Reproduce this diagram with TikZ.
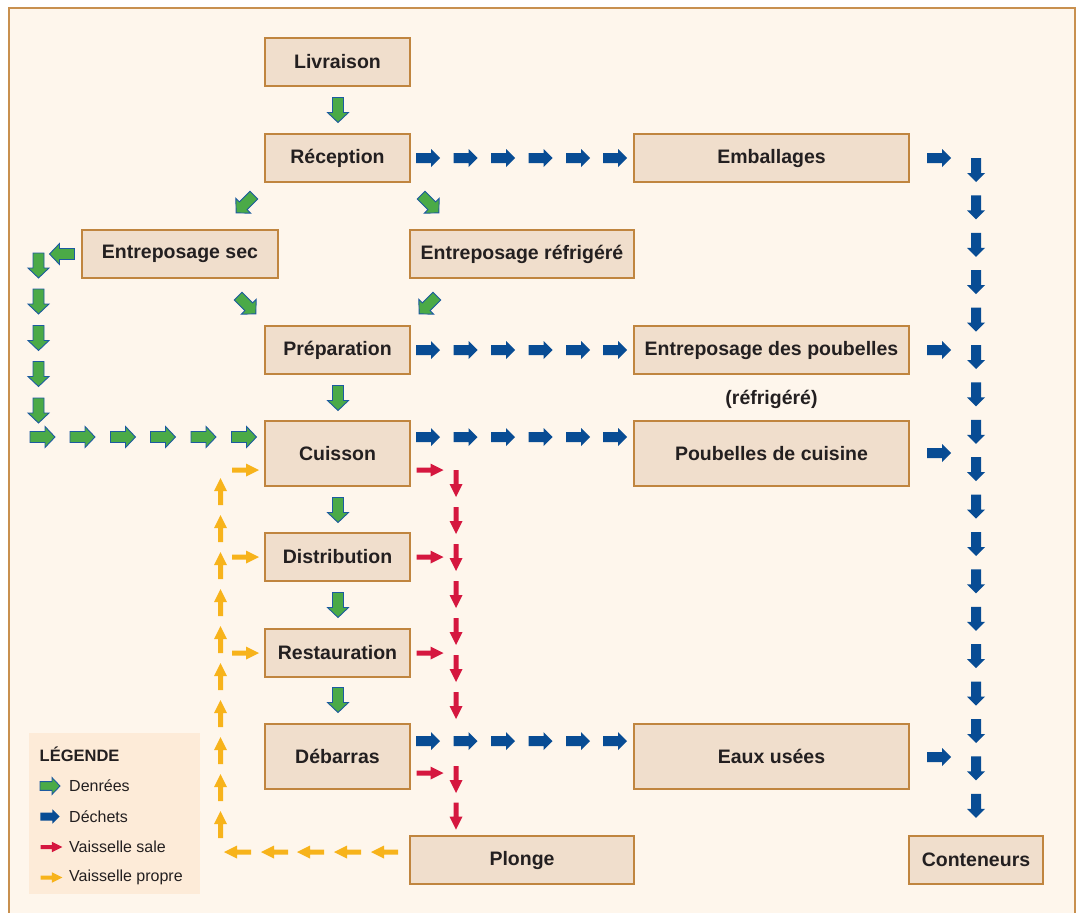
\documentclass[tikz,border=0pt]{standalone}
\usepackage{fontspec}
\setmainfont{Liberation Sans}
\definecolor{cream}{HTML}{FEF6EC}
\definecolor{frame}{HTML}{C8904F}
\definecolor{boxfill}{HTML}{F0DECC}
\definecolor{boxline}{HTML}{C0853F}
\definecolor{legfill}{HTML}{FDEBD8}
\definecolor{dgreen}{HTML}{4BAA47}
\definecolor{gline}{HTML}{1C5AA0}
\definecolor{dblue}{HTML}{084C94}
\definecolor{dred}{HTML}{D5173F}
\definecolor{dyellow}{HTML}{F7B31B}
\definecolor{txt}{HTML}{231F20}
\tikzset{
  box/.style={draw=boxline, fill=boxfill, line width=1.5pt, text=txt,
    font=\fontsize{19.5}{22}\selectfont\bfseries, inner sep=0pt},
  pics/grn/.style={code={\path[fill=dgreen, draw=gline, line width=0.9pt]
     (-12.5,-5.5) -- (2.5,-5.5) -- (2.5,-10.5) -- (12.5,0) -- (2.5,10.5) -- (2.5,5.5) -- (-12.5,5.5) -- cycle;}},
  pics/blu/.style={code={\path[fill=dblue]
     (-12,-5) -- (3,-5) -- (3,-9) -- (12,0) -- (3,9) -- (3,5) -- (-12,5) -- cycle;}},
  pics/thin/.style={code={\path[fill=#1]
     (-13.5,-2.5) -- (0.5,-2.5) -- (0.5,-6.5) -- (13.5,0) -- (0.5,6.5) -- (0.5,2.5) -- (-13.5,2.5) -- cycle;}},
  legtxt/.style={anchor=west, text=txt, font=\fontsize{16}{18}\selectfont, inner sep=0pt},
}
\begin{document}
\begin{tikzpicture}[x=1pt,y=-1pt]
\useasboundingbox (0,0) rectangle (1082,913);
\fill[white] (0,0) rectangle (1082,913);
\fill[cream] (8.5,7.5) rectangle (1074.5,913);
\draw[frame, line width=2pt] (8.5,925) -- (8.5,7.5) -- (1074.5,7.5) -- (1074.5,925);

% boxes
\node[box, minimum width=145pt, minimum height=48pt] (liv) at (337.5,62) {Livraison};
\node[box, minimum width=145pt, minimum height=48pt] (rec) at (337.5,158) {Réception};
\node[box, minimum width=275pt, minimum height=48pt] (emb) at (771.5,158) {Emballages};
\node[box, minimum width=196pt, minimum height=48pt] (esec) at (180,254) {Entreposage sec};
\node[box, minimum width=224pt, minimum height=48pt] (eref) at (522,254) {Entreposage réfrigéré};
\node[box, minimum width=145pt, minimum height=48pt] (prep) at (337.5,350) {Préparation};
\node[box, minimum width=275pt, minimum height=48pt] (epou) at (771.5,350) {Entreposage des poubelles};
\node[text=txt, font=\fontsize{19.5}{22}\selectfont\bfseries, inner sep=0pt] (refr) at (771.5,399) {(réfrigéré)};
\node[box, minimum width=145pt, minimum height=65pt] (cuis) at (337.5,453.5) {Cuisson};
\node[box, minimum width=275pt, minimum height=65pt] (pcui) at (771.5,453.5) {Poubelles de cuisine};
\node[box, minimum width=145pt, minimum height=48pt] (dist) at (337.5,557) {Distribution};
\node[box, minimum width=145pt, minimum height=48pt] (rest) at (337.5,653) {Restauration};
\node[box, minimum width=145pt, minimum height=65pt] (deb) at (337.5,756.5) {Débarras};
\node[box, minimum width=275pt, minimum height=65pt] (eaux) at (771.5,756.5) {Eaux usées};
\node[box, minimum width=224pt, minimum height=48pt] (plon) at (522,860) {Plonge};
\node[box, minimum width=134pt, minimum height=48pt] (cont) at (976,860) {Conteneurs};

% green arrows (Denrées)
\pic[rotate=-90] at (338,110) {grn};
\pic[rotate=225] at (245,204) {grn};
\pic[rotate=-45] at (430,204) {grn};
\pic[rotate=-45] at (247,305) {grn};
\pic[rotate=225] at (428,305) {grn};
\pic[rotate=180] at (62,254) {grn};
\foreach \y in {265.5,301.5,338,374,410.5} \pic[rotate=-90] at (38.5,\y) {grn};
\foreach \x in {42.5,82.5,123,163,203.5,244} \pic at (\x,437) {grn};
\foreach \y in {398,510,605,700} \pic[rotate=-90] at (338,\y) {grn};

% blue arrows (Déchets)
\foreach \y in {158,350,437,741}
  \foreach \x in {428,465.5,503,540.5,578,615} \pic at (\x,\y) {blu};
\foreach \y in {158,350,453,757} \pic at (939,\y) {blu};
\foreach \k in {0,...,17} \pic[rotate=-90] at (976,170+37.4*\k) {blu};

% red arrows (Vaisselle sale)
\foreach \y in {470,557,653,773} \pic at (430,\y) {thin=dred};
\foreach \y in {483.5,520.5,557.5,594.5,631.5,668.5,705.5,779.5,816} \pic[rotate=-90] at (456,\y) {thin=dred};

% yellow arrows (Vaisselle propre)
\foreach \y in {470,557,653} \pic at (245.5,\y) {thin=dyellow};
\foreach \k in {0,...,9} \pic[rotate=90] at (220.5,491.5+37*\k) {thin=dyellow};
\foreach \x in {237.5,274.5,310.5,347.5,384.5} \pic[rotate=180] at (\x,852) {thin=dyellow};

% legend
\fill[legfill] (29,733) rectangle (200,894);
\node[anchor=west, text=txt, font=\fontsize{16.5}{18}\selectfont\bfseries, inner sep=0pt] (legt) at (39.5,754) {LÉGENDE};
\pic[scale=0.8] at (50,786) {grn};
\node[legtxt] (l1) at (69,786) {Denrées};
\pic[scale=0.8] at (50,816.5) {blu};
\node[legtxt] (l2) at (69,816.5) {Déchets};
\pic[scale=0.8] at (51.5,847) {thin=dred};
\node[legtxt] (l3) at (69,847) {Vaisselle sale};
\pic[scale=0.8] at (51.5,877.5) {thin=dyellow};
\node[legtxt] (l4) at (69,877.5) {Vaisselle propre};
\end{tikzpicture}
\end{document}
